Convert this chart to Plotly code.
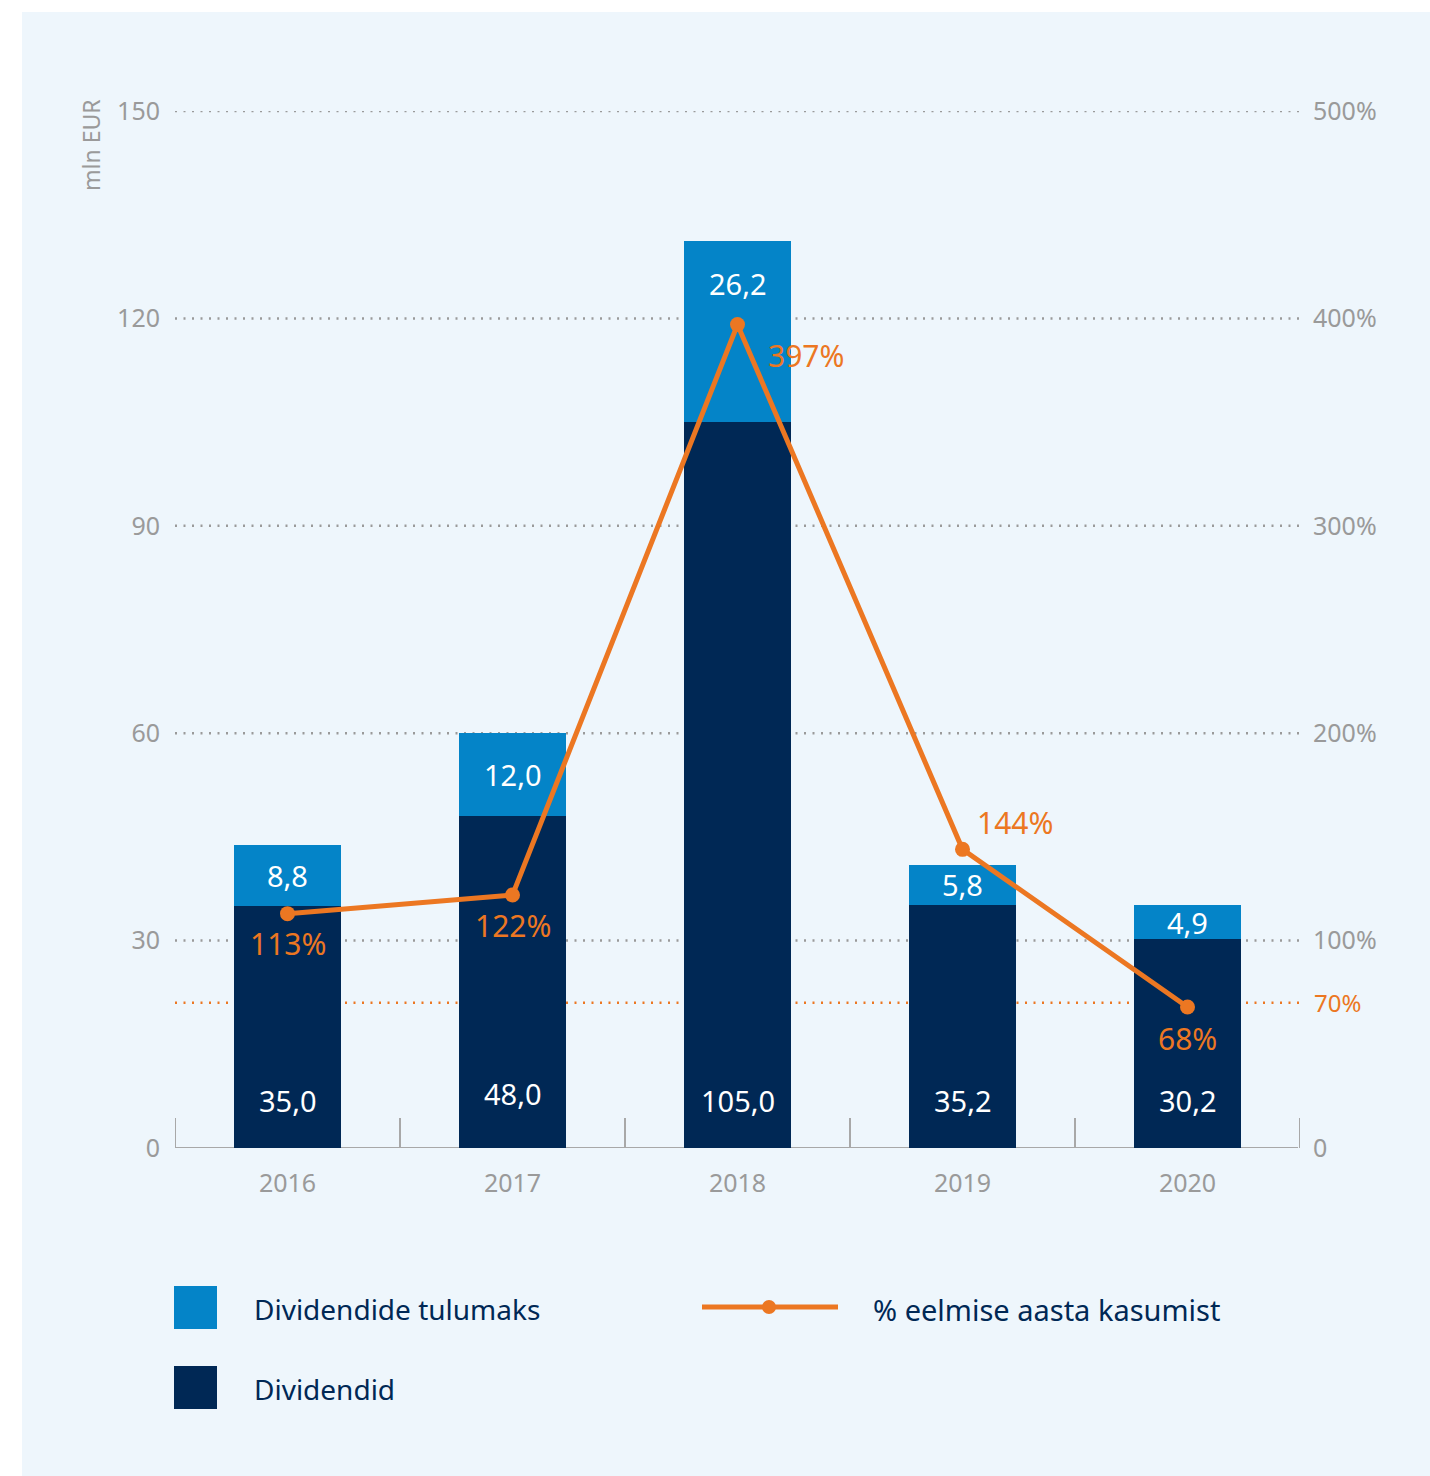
import plotly.graph_objects as go

# Data
years = ["2016", "2017", "2018", "2019", "2020"]
dividends = [35.0, 48.0, 105.0, 35.2, 30.2]          # Dividendid, mln EUR
dividend_tax = [8.8, 12.0, 26.2, 5.8, 4.9]           # Dividendide tulumaks, mln EUR
pct_prev_profit = [113, 122, 397, 144, 68]           # % eelmise aasta kasumist
left_ticks = [0, 30, 60, 90, 120, 150]
right_ticks = [0, 100, 200, 300, 400, 500]
right_tick_text = ["0", "100%", "200%", "300%", "400%", "500%"]
target_pct = 70

# Colours / fonts
NAVY = "#002855"
BLUE = "#0484C8"
ORANGE = "#EC7722"
GREY = "#9A9A9A"
PANEL = "#EEF6FC"
FONT = "Noto Sans"

W, H = 1430, 1476
ML, MR, MT, MB = 175, 130, 111, 328
PW, PH = W - ML - MR, H - MT - MB


def px_x(x):
    return (x - ML) / PW


def px_y(y):
    return (H - MB - y) / PH


fig = go.Figure()

fig.add_trace(go.Bar(
    x=years, y=dividends, name="Dividendid",
    marker=dict(color=NAVY, line=dict(width=0)), width=0.475,
    hoverinfo="skip",
))
fig.add_trace(go.Bar(
    x=years, y=dividend_tax, name="Dividendide tulumaks",
    marker=dict(color=BLUE, line=dict(width=0)), width=0.475,
    hoverinfo="skip",
))
fig.add_trace(go.Scatter(
    x=years, y=pct_prev_profit, yaxis="y2", mode="lines+markers",
    name="% eelmise aasta kasumist",
    line=dict(color=ORANGE, width=5),
    marker=dict(color=ORANGE, size=15),
    hoverinfo="skip",
))

shapes = []
# Light panel behind everything
shapes.append(dict(type="rect", xref="paper", yref="paper",
                   x0=px_x(22), x1=px_x(1430), y0=px_y(1476), y1=px_y(12),
                   fillcolor=PANEL, line=dict(width=0), layer="below"))
# Dotted grid lines
for v in left_ticks[1:]:
    shapes.append(dict(type="line", xref="paper", yref="y",
                       x0=0, x1=px_x(1299), y0=v, y1=v,
                       line=dict(color=GREY, width=2.5, dash="2px,6.5px"),
                       layer="below"))
# 70% reference line
shapes.append(dict(type="line", xref="paper", yref="y2",
                   x0=0, x1=px_x(1299), y0=target_pct, y1=target_pct,
                   line=dict(color=ORANGE, width=2.5, dash="2px,6.5px"),
                   layer="below"))
# Baseline and category separators
shapes.append(dict(type="line", xref="paper", yref="y", x0=0, x1=px_x(1298), y0=0, y1=0,
                   line=dict(color="#A8A8A8", width=2), layer="below"))
for i in range(len(years) + 1):
    shapes.append(dict(type="line", xref="x", yref="paper",
                       x0=i - 0.5, x1=i - 0.5, y0=0, y1=30 / PH,
                       line=dict(color="#A8A8A8", width=2), layer="below"))

annotations = []
# Value labels on bars
tax_shift = {2: 48}
div_shift = {1: 55}
for i in range(len(years)):
    annotations.append(dict(x=i, y=0, xref="x", yref="y", yanchor="middle",
                            yshift=div_shift.get(i, 48),
                            text=f"{dividends[i]:.1f}".replace(".", ","),
                            showarrow=False, font=dict(family=FONT, size=29, color="white")))
    annotations.append(dict(x=i, y=dividends[i] + dividend_tax[i] / 2, xref="x", yref="y",
                            yanchor="middle", yshift=tax_shift.get(i, 0),
                            text=f"{dividend_tax[i]:.1f}".replace(".", ","),
                            showarrow=False, font=dict(family=FONT, size=29, color="white")))

# Percentage labels next to line points
pct_offsets = [(0, -30), (0, -31), (68, -31), (52, 27), (0, -32)]
for i in range(len(years)):
    dx, dy = pct_offsets[i]
    annotations.append(dict(x=i, y=pct_prev_profit[i], xref="x", yref="y2",
                            yanchor="middle", xshift=dx, yshift=dy,
                            text=f"{pct_prev_profit[i]}%",
                            showarrow=False, font=dict(family=FONT, size=30, color=ORANGE)))

# 70% label on the right
annotations.append(dict(x=px_x(1312), y=target_pct, xref="paper", yref="y2",
                        xanchor="left", yanchor="middle", text=f"{target_pct}%", showarrow=False,
                        font=dict(family=FONT, size=24, color=ORANGE)))

# Axis unit
annotations.append(dict(x=px_x(91), y=px_y(97), xref="paper", yref="paper",
                        xanchor="center", yanchor="top", textangle=-90,
                        text="mln EUR", showarrow=False,
                        font=dict(family=FONT, size=23, color=GREY)))

# Legend
leg_font = dict(family=FONT, size=28, color=NAVY)
shapes.append(dict(type="rect", xref="paper", yref="paper",
                   x0=px_x(174), x1=px_x(217), y0=px_y(1329), y1=px_y(1286),
                   fillcolor=BLUE, line=dict(width=0)))
shapes.append(dict(type="rect", xref="paper", yref="paper",
                   x0=px_x(174), x1=px_x(217), y0=px_y(1409), y1=px_y(1366),
                   fillcolor=NAVY, line=dict(width=0)))
shapes.append(dict(type="line", xref="paper", yref="paper",
                   x0=px_x(702), x1=px_x(838), y0=px_y(1307), y1=px_y(1307),
                   line=dict(color=ORANGE, width=5)))
shapes.append(dict(type="circle", xref="paper", yref="paper",
                   x0=px_x(762), x1=px_x(776), y0=px_y(1314), y1=px_y(1300),
                   fillcolor=ORANGE, line=dict(width=0)))
annotations.append(dict(x=px_x(252), y=px_y(1309), xref="paper", yref="paper",
                        xanchor="left", yanchor="middle", text="Dividendide tulumaks",
                        showarrow=False, font=leg_font))
annotations.append(dict(x=px_x(252), y=px_y(1389), xref="paper", yref="paper",
                        xanchor="left", yanchor="middle", text="Dividendid",
                        showarrow=False, font=leg_font))
annotations.append(dict(x=px_x(871), y=px_y(1309), xref="paper", yref="paper",
                        xanchor="left", yanchor="middle", text="% eelmise aasta kasumist",
                        showarrow=False, font=dict(family=FONT, size=29, color=NAVY)))

fig.update_layout(
    width=W, height=H,
    margin=dict(l=ML, r=MR, t=MT, b=MB),
    paper_bgcolor="white", plot_bgcolor="rgba(0,0,0,0)",
    barmode="stack", bargap=0.5,
    showlegend=False,
    font=dict(family=FONT, color=GREY),
    xaxis=dict(type="category", range=[-0.5, 4.5], showgrid=False, zeroline=False,
               showline=False, ticks="", ticklabelstandoff=18,
               tickfont=dict(family=FONT, size=25, color=GREY)),
    yaxis=dict(range=[0, 150], tickvals=left_ticks, showgrid=False, zeroline=False,
               showline=False, ticks="", ticklabelstandoff=14,
               tickfont=dict(family=FONT, size=25, color=GREY)),
    yaxis2=dict(range=[0, 500], tickvals=right_ticks, ticktext=right_tick_text,
                overlaying="y", side="right", showgrid=False, zeroline=False,
                showline=False, ticks="", ticklabelstandoff=12,
                tickfont=dict(family=FONT, size=25, color=GREY)),
    shapes=shapes,
    annotations=annotations,
)

fig.write_html("out.html")
